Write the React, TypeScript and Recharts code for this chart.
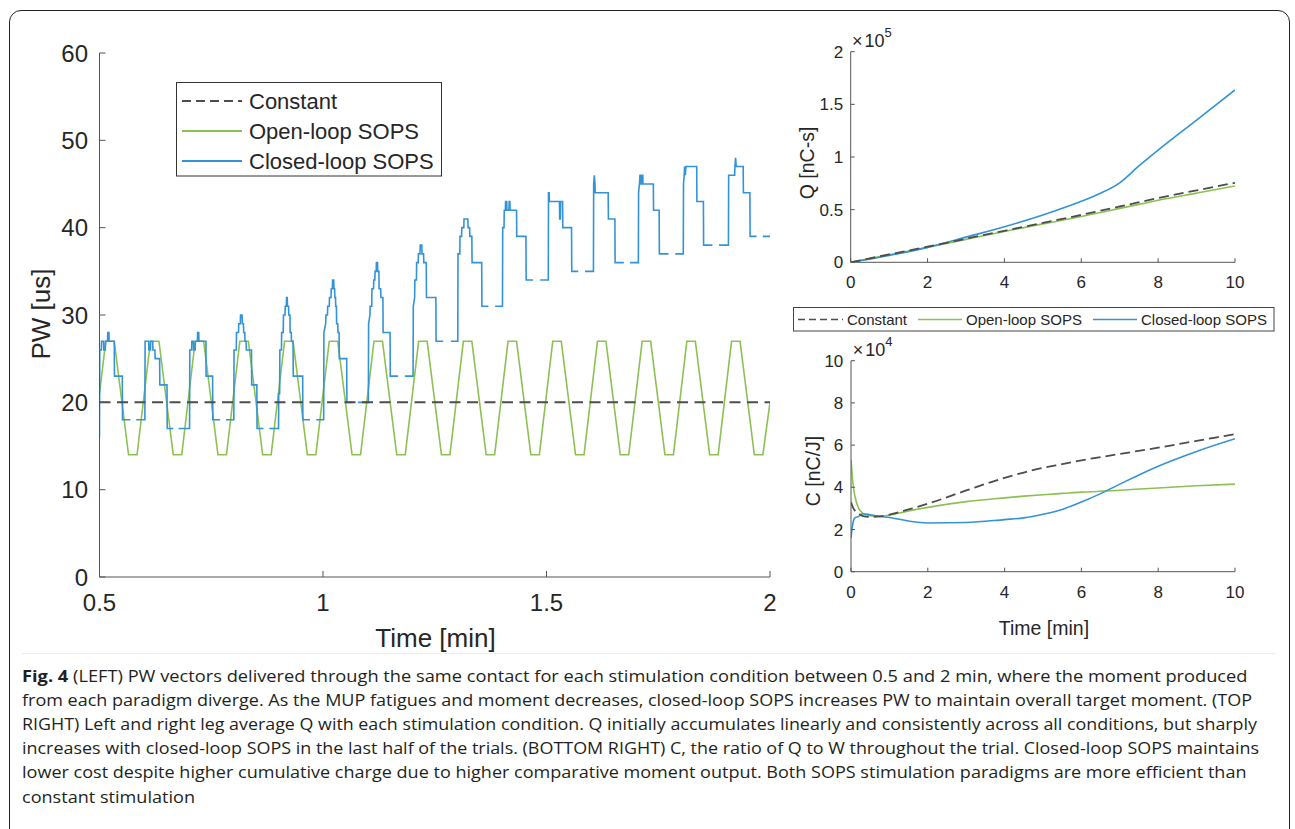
import { LineChart, Line, XAxis, YAxis } from 'recharts';

type Pt = [number, number | null];

const FONT = "'Liberation Sans', Arial, Helvetica, sans-serif";
const AXIS = '#555555';
const TXT = '#262626';
const BLUE = '#3493d6';
const GREEN = '#8cc152';
const GRAY = '#4d4d4d';

// ---- left panel: PW [us] between 0.5 and 2 min ----
const pwTicksX = [0.5, 1, 1.5, 2];
const pwTicksY = [0, 10, 20, 30, 40, 50, 60];

const pwConstant: Pt[] = [[0.5, 20], [2, 20]];

const pwOpenLoop: Pt[] = [
  [0.5, 21], [0.514, 27], [0.533, 27], [0.565, 14], [0.584, 14],
  [0.614, 27], [0.633, 27], [0.665, 14], [0.684, 14],
  [0.714, 27], [0.733, 27], [0.765, 14], [0.784, 14],
  [0.814, 27], [0.833, 27], [0.865, 14], [0.884, 14],
  [0.914, 27], [0.933, 27], [0.965, 14], [0.984, 14],
  [1.014, 27], [1.033, 27], [1.065, 14], [1.084, 14],
  [1.114, 27], [1.133, 27], [1.165, 14], [1.184, 14],
  [1.214, 27], [1.233, 27], [1.265, 14], [1.284, 14],
  [1.314, 27], [1.333, 27], [1.365, 14], [1.384, 14],
  [1.414, 27], [1.433, 27], [1.465, 14], [1.484, 14],
  [1.514, 27], [1.533, 27], [1.565, 14], [1.584, 14],
  [1.614, 27], [1.633, 27], [1.665, 14], [1.684, 14],
  [1.714, 27], [1.733, 27], [1.765, 14], [1.784, 14],
  [1.814, 27], [1.833, 27], [1.865, 14], [1.884, 14],
  [1.914, 27], [1.933, 27], [1.965, 14], [1.984, 14], [2.0, 20],
];

// closed loop: one burst per 0.1 min, null = gap in the low plateau
const pwClosedLoop: Pt[] = [
  [0.5, 16], [0.5005, 26], [0.504, 26], [0.5045, 27], [0.509, 27], [0.5095, 26], [0.513, 26], [0.5135, 27],
  [0.518, 27], [0.5185, 28], [0.521, 28], [0.5215, 27], [0.533, 27], [0.5335, 23], [0.551, 23], [0.5515, 18],
  [0.569, 18], [0.57, null], [0.582, 18], [0.6015, 18],
  [0.602, 27], [0.61, 27], [0.6105, 26], [0.614, 26], [0.6145, 27], [0.619, 27], [0.6195, 26], [0.624, 26],
  [0.6245, 25], [0.6345, 25], [0.635, 22], [0.651, 22], [0.6515, 17], [0.665, 17], [0.666, null], [0.677, 17], [0.7015, 17],
  [0.702, 26], [0.706, 26], [0.7065, 27], [0.71, 27], [0.7105, 26], [0.714, 26], [0.7145, 27], [0.719, 27],
  [0.7195, 28], [0.722, 28], [0.7225, 27], [0.738, 27], [0.7385, 23], [0.753, 23], [0.7535, 18], [0.77, 18],
  [0.771, null], [0.783, 18], [0.8005, 18],
  [0.801, 26], [0.806, 26], [0.8065, 28], [0.811, 28], [0.8115, 29], [0.815, 29], [0.8155, 30], [0.819, 30],
  [0.8195, 29], [0.822, 29], [0.8225, 28], [0.825, 28], [0.8255, 27], [0.828, 27], [0.8285, 26], [0.84, 26],
  [0.8405, 22], [0.852, 22], [0.8525, 17], [0.867, 17], [0.868, null], [0.88, 17], [0.9005, 17],
  [0.901, 21], [0.903, 21], [0.9035, 26], [0.907, 26], [0.9075, 28], [0.911, 28], [0.9115, 30], [0.915, 30],
  [0.9155, 31], [0.918, 31], [0.9185, 32], [0.92, 32], [0.9205, 31], [0.923, 31], [0.9235, 30], [0.926, 30],
  [0.9265, 28], [0.929, 28], [0.9295, 27], [0.933, 27], [0.9335, 23], [0.9545, 23], [0.955, 18], [0.971, 18],
  [0.972, null], [0.985, 18], [1.0015, 18],
  [1.002, 28], [1.006, 29], [1.0065, 30], [1.01, 30], [1.0105, 31], [1.014, 31], [1.0145, 32], [1.018, 32],
  [1.0185, 33], [1.021, 33], [1.0215, 34], [1.024, 34], [1.0245, 33], [1.026, 33], [1.0265, 32], [1.028, 32],
  [1.0285, 31], [1.03, 31], [1.0305, 29], [1.033, 29], [1.0335, 28], [1.036, 28], [1.0365, 25], [1.053, 25],
  [1.0535, 20], [1.066, 20], [1.067, null], [1.078, 20], [1.1015, 20],
  [1.102, 29], [1.105, 30], [1.1055, 31], [1.109, 31], [1.1095, 33], [1.113, 33], [1.1135, 34], [1.116, 34],
  [1.1165, 35], [1.119, 35], [1.1195, 36], [1.122, 36], [1.1225, 35], [1.125, 35], [1.1255, 33], [1.129, 33],
  [1.1295, 32], [1.134, 32], [1.1345, 28], [1.15, 28], [1.1505, 23], [1.168, 23], [1.169, null], [1.183, 23], [1.2015, 23],
  [1.202, 31], [1.205, 32], [1.2055, 34], [1.209, 34], [1.2095, 36], [1.213, 36], [1.2135, 37], [1.217, 37],
  [1.2175, 38], [1.221, 38], [1.2215, 37], [1.225, 37], [1.2255, 36], [1.231, 36], [1.2315, 32], [1.2525, 32],
  [1.253, 27], [1.269, 27], [1.27, null], [1.286, 27], [1.3015, 27],
  [1.302, 37], [1.306, 37], [1.3065, 39], [1.31, 39], [1.3105, 40], [1.315, 40], [1.3155, 41], [1.324, 41],
  [1.3245, 40], [1.328, 40], [1.3285, 39], [1.333, 39], [1.3335, 36], [1.355, 36], [1.3555, 31], [1.37, 31],
  [1.371, null], [1.385, 31], [1.4015, 31],
  [1.402, 40], [1.405, 40], [1.4055, 42], [1.408, 42], [1.4085, 43], [1.411, 43], [1.4115, 42], [1.416, 42],
  [1.4165, 43], [1.418, 43], [1.4185, 42], [1.433, 42], [1.4335, 39], [1.454, 39], [1.4545, 34], [1.47, 34],
  [1.471, null], [1.486, 34], [1.504, 34],
  [1.5045, 44], [1.506, 44], [1.5065, 43], [1.529, 43], [1.5295, 41], [1.531, 41], [1.5315, 43], [1.536, 43],
  [1.5365, 40], [1.556, 40], [1.5565, 35], [1.571, 35], [1.572, null], [1.586, 35], [1.605, 35],
  [1.6055, 45], [1.607, 46], [1.6085, 45], [1.609, 44], [1.638, 44], [1.6385, 41], [1.653, 41], [1.6535, 36],
  [1.673, 36], [1.674, null], [1.687, 36], [1.7055, 36],
  [1.706, 44], [1.708, 45], [1.7092, 46], [1.7105, 46], [1.7107, 45], [1.714, 45], [1.7142, 46], [1.7155, 46],
  [1.7157, 45], [1.739, 45], [1.7395, 42], [1.752, 42], [1.7525, 37], [1.773, 37], [1.774, null], [1.788, 37], [1.806, 37],
  [1.8065, 45], [1.808, 46], [1.809, 47], [1.8105, 46], [1.812, 47], [1.836, 47], [1.8365, 43], [1.851, 43],
  [1.8515, 38], [1.871, 38], [1.872, null], [1.886, 38], [1.907, 38],
  [1.9075, 46], [1.921, 46], [1.9215, 47], [1.923, 48], [1.9245, 47], [1.94, 47], [1.9405, 44], [1.955, 44],
  [1.9555, 39], [1.97, 39], [1.971, null], [1.984, 39], [2.0, 39],
];

// ---- top right: Q [nC-s], read in units of 1e5 ----
const qTime = [0, 1, 2, 3, 4, 5, 6, 6.5, 7, 7.5, 8, 9, 10];
const qConstant = [0, 0.075, 0.148, 0.224, 0.299, 0.375, 0.45, 0.49, 0.53, 0.57, 0.61, 0.683, 0.755];
const qOpenLoop = [0, 0.072, 0.142, 0.218, 0.293, 0.365, 0.435, 0.473, 0.512, 0.55, 0.589, 0.657, 0.725];
const qClosedLoop = [0, 0.065, 0.142, 0.239, 0.338, 0.45, 0.58, 0.656, 0.755, 0.915, 1.065, 1.35, 1.637];

// ---- bottom right: C [nC/J], read in units of 1e4 ----
const cTime = [0, 0.05, 0.1, 0.2, 0.3, 0.5, 0.75, 1, 1.5, 2, 3, 4, 4.5, 5, 5.5, 6, 6.5, 7, 8, 9, 10];
const cConstant = [3.3, 3.05, 2.9, 2.75, 2.65, 2.6, 2.62, 2.7, 2.95, 3.22, 3.85, 4.45, 4.7, 4.92, 5.1, 5.28, 5.43, 5.58, 5.88, 6.2, 6.52];
const cOpenLoop = [5.3, 4.2, 3.6, 3.0, 2.78, 2.65, 2.62, 2.68, 2.88, 3.05, 3.32, 3.5, 3.58, 3.65, 3.71, 3.77, 3.81, 3.86, 3.97, 4.07, 4.15];
const cClosedLoop = [1.6, 2.3, 2.55, 2.62, 2.75, 2.7, 2.62, 2.57, 2.4, 2.31, 2.33, 2.47, 2.55, 2.72, 2.95, 3.3, 3.7, 4.15, 5.0, 5.7, 6.3];

const rightTicksX = [0, 2, 4, 6, 8, 10];
const qTicksY = [0, 0.5, 1, 1.5, 2].map((v) => v * 1e5);
const cTicksY = [0, 2, 4, 6, 8, 10].map((v) => v * 1e4);

const captionLines = [
  { bold: 'Fig. 4', text: ' (LEFT) PW vectors delivered through the same contact for each stimulation condition between 0.5 and 2 min, where the moment produced', end: 1247.5 },
  { bold: '', text: 'from each paradigm diverge. As the MUP fatigues and moment decreases, closed-loop SOPS increases PW to maintain overall target moment. (TOP', end: 1252 },
  { bold: '', text: 'RIGHT) Left and right leg average Q with each stimulation condition. Q initially accumulates linearly and consistently across all conditions, but sharply', end: 1257 },
  { bold: '', text: 'increases with closed-loop SOPS in the last half of the trials. (BOTTOM RIGHT) C, the ratio of Q to W throughout the trial. Closed-loop SOPS maintains', end: 1259 },
  { bold: '', text: 'lower cost despite higher cumulative charge due to higher comparative moment output. Both SOPS stimulation paradigms are more efficient than', end: 1246.5 },
  { bold: '', text: 'constant stimulation', end: 195 },
];

const toRows = (pts: Pt[]) => pts.map(([t, v]) => ({ t, v }));

const blank = () => '';

function BoxAxes({ xDomain, xTicks, yDomain, yTicks, tick, tickLen, xMargin, yMargin, yWidth, yFmt }: any) {
  // bottom/left with labels, top/right as plain tick rows (matlab "box on")
  return [
    <XAxis key="xb" xAxisId={0} dataKey="t" type="number" domain={xDomain} ticks={xTicks} interval={0}
      allowDataOverflow height={50} tickSize={-tickLen} tickMargin={xMargin}
      axisLine={{ stroke: AXIS }} tickLine={{ stroke: AXIS }} tick={tick} />,
    <XAxis key="xt" xAxisId="top" orientation="top" dataKey="t" type="number" domain={xDomain} ticks={xTicks}
      interval={0} allowDataOverflow height={0} tickSize={-tickLen} tickFormatter={blank}
      axisLine={{ stroke: AXIS }} tickLine={{ stroke: AXIS }} />,
    <YAxis key="yl" yAxisId={0} type="number" domain={yDomain} ticks={yTicks} interval={0} allowDataOverflow
      width={yWidth} tickSize={-tickLen} tickMargin={yMargin} tickFormatter={yFmt}
      axisLine={{ stroke: AXIS }} tickLine={{ stroke: AXIS }} tick={tick} />,
    <YAxis key="yr" yAxisId="right" orientation="right" type="number" domain={yDomain} ticks={yTicks} interval={0}
      allowDataOverflow width={0} tickSize={-tickLen} tickFormatter={blank}
      axisLine={{ stroke: AXIS }} tickLine={{ stroke: AXIS }} />,
  ];
}

export default function App() {
  const qRows = qTime.map((t, i) => ({
    t,
    constant: qConstant[i] * 1e5,
    open: qOpenLoop[i] * 1e5,
    closed: qClosedLoop[i] * 1e5,
  }));
  const cRows = cTime.map((t, i) => ({
    t,
    constant: cConstant[i] * 1e4,
    open: cOpenLoop[i] * 1e4,
    closed: cClosedLoop[i] * 1e4,
  }));

  const bigTick = { fill: TXT, fontSize: 24, fontFamily: FONT };
  const smallTick = { fill: TXT, fontSize: 17, fontFamily: FONT };

  return (
    <div style={{ position: 'absolute', left: 0, top: 0, width: 1295, height: 829, overflow: 'hidden', background: '#fff', fontFamily: FONT }}>
      {/* figure frame */}
      <div style={{ position: 'absolute', left: 9, top: 10, width: 1281, height: 860, border: '1.5px solid #222', borderRadius: 12, boxSizing: 'border-box' }} />

      {/* LEFT: PW */}
      <div style={{ position: 'absolute', left: 0, top: 0 }}>
        <LineChart width={800} height={660} margin={{ top: 53, right: 30, bottom: 33, left: 39.5 }}>
          {BoxAxes({ xDomain: [0.5, 2], xTicks: pwTicksX, yDomain: [0, 60], yTicks: pwTicksY, tick: bigTick, tickLen: 6, xMargin: 23, yMargin: 17.5, yWidth: 60 })}
          <Line data={toRows(pwOpenLoop)} dataKey="v" type="linear" stroke={GREEN} strokeWidth={1.6} dot={false} activeDot={false} isAnimationActive={false} />
          <Line data={toRows(pwClosedLoop)} dataKey="v" type="linear" stroke={BLUE} strokeWidth={1.6} dot={false} activeDot={false} isAnimationActive={false} />
          <Line data={toRows(pwConstant)} dataKey="v" type="linear" stroke={GRAY} strokeWidth={2} strokeDasharray="11 6.5" dot={false} activeDot={false} isAnimationActive={false} />
        </LineChart>
      </div>

      {/* TOP RIGHT: Q */}
      <div style={{ position: 'absolute', left: 780, top: 0 }}>
        <LineChart width={515} height={340} data={qRows} margin={{ top: 51.7, right: 60, bottom: 27.7, left: 20.7 }}>
          {BoxAxes({ xDomain: [0, 10], xTicks: rightTicksX, yDomain: [0, 2e5], yTicks: qTicksY, tick: smallTick, tickLen: 4, xMargin: 18, yMargin: 11.5, yWidth: 50, yFmt: (v: number) => String(v / 1e5) })}
          <Line dataKey="open" type="monotone" stroke={GREEN} strokeWidth={1.6} dot={false} activeDot={false} isAnimationActive={false} />
          <Line dataKey="closed" type="monotone" stroke={BLUE} strokeWidth={1.6} dot={false} activeDot={false} isAnimationActive={false} />
          <Line dataKey="constant" type="monotone" stroke={GRAY} strokeWidth={1.8} strokeDasharray="10 5" dot={false} activeDot={false} isAnimationActive={false} />
        </LineChart>
      </div>

      {/* BOTTOM RIGHT: C */}
      <div style={{ position: 'absolute', left: 780, top: 330 }}>
        <LineChart width={515} height={320} data={cRows} margin={{ top: 30.7, right: 60, bottom: 28.3, left: 21 }}>
          {BoxAxes({ xDomain: [0, 10], xTicks: rightTicksX, yDomain: [0, 1e5], yTicks: cTicksY, tick: smallTick, tickLen: 4, xMargin: 18, yMargin: 11.7, yWidth: 50, yFmt: (v: number) => String(v / 1e4) })}
          <Line dataKey="open" type="monotone" stroke={GREEN} strokeWidth={1.6} dot={false} activeDot={false} isAnimationActive={false} />
          <Line dataKey="closed" type="monotone" stroke={BLUE} strokeWidth={1.6} dot={false} activeDot={false} isAnimationActive={false} />
          <Line dataKey="constant" type="monotone" stroke={GRAY} strokeWidth={1.8} strokeDasharray="10 5" dot={false} activeDot={false} isAnimationActive={false} />
        </LineChart>
      </div>

      {/* titles, legends, caption */}
      <svg width={1295} height={829} style={{ position: 'absolute', left: 0, top: 0, pointerEvents: 'none' }}>
        <g fill={TXT} fontFamily={FONT}>
          <text x={41} y={314} fontSize={26} textAnchor="middle" dominantBaseline="central" transform="rotate(-90 41 314)">PW [us]</text>
          <text x={435.5} y={647} fontSize={26} textAnchor="middle">Time [min]</text>
          <text x={807} y={163} fontSize={19.5} textAnchor="middle" dominantBaseline="central" transform="rotate(-90 807 163)">Q [nC-s]</text>
          <text x={813} y={471} fontSize={19.5} textAnchor="middle" dominantBaseline="central" transform="rotate(-90 813 471)">C [nC/J]</text>
          <text x={1044} y={635} fontSize={19.5} textAnchor="middle">Time [min]</text>
          <text x={852} y={47} fontSize={18}>×<tspan dx={2}>10</tspan><tspan fontSize={13} dy={-10}>5</tspan></text>
          <text x={852.7} y={356} fontSize={18}>×<tspan dx={2}>10</tspan><tspan fontSize={13} dy={-10}>4</tspan></text>
        </g>

        {/* left legend */}
        <rect x={176.5} y={82.5} width={265} height={93.5} fill="#fff" stroke="#333" strokeWidth={1} />
        <line x1={182} x2={242} y1={101} y2={101} stroke={GRAY} strokeWidth={2} strokeDasharray="9 5" />
        <line x1={182} x2={242} y1={131} y2={131} stroke={GREEN} strokeWidth={2} />
        <line x1={182} x2={242} y1={161} y2={161} stroke={BLUE} strokeWidth={2} />
        <g fill={TXT} fontFamily={FONT} fontSize={22}>
          <text x={249} y={108.7}>Constant</text>
          <text x={249} y={138.7}>Open-loop SOPS</text>
          <text x={249} y={168.7}>Closed-loop SOPS</text>
        </g>

        {/* right legend */}
        <rect x={793.5} y={307.5} width={480.5} height={23.5} fill="#fff" stroke="#444" strokeWidth={1} />
        <line x1={798} x2={843} y1={319.5} y2={319.5} stroke={GRAY} strokeWidth={1.6} strokeDasharray="7 4" />
        <line x1={918} x2={962} y1={319.5} y2={319.5} stroke={GREEN} strokeWidth={1.6} />
        <line x1={1093} x2={1137} y1={319.5} y2={319.5} stroke={BLUE} strokeWidth={1.6} />
        <g fill={TXT} fontFamily={FONT} fontSize={15}>
          <text x={847} y={325}>Constant</text>
          <text x={966} y={325}>Open-loop SOPS</text>
          <text x={1141} y={325}>Closed-loop SOPS</text>
        </g>

        {/* caption */}
        <line x1={22} x2={1275} y1={653.5} y2={653.5} stroke="#ececec" strokeWidth={1} />
        <g fill="#231f20" fontFamily="'Open Sans', 'Noto Sans', sans-serif" fontSize={15.5}>
          {captionLines.map((l, i) => (
            <text key={i} x={22} y={682 + i * 24.1} textLength={l.end - 22} lengthAdjust="spacingAndGlyphs">
              {l.bold ? <tspan fontWeight={700}>{l.bold}</tspan> : null}
              {l.text}
            </text>
          ))}
        </g>
      </svg>
    </div>
  );
}
